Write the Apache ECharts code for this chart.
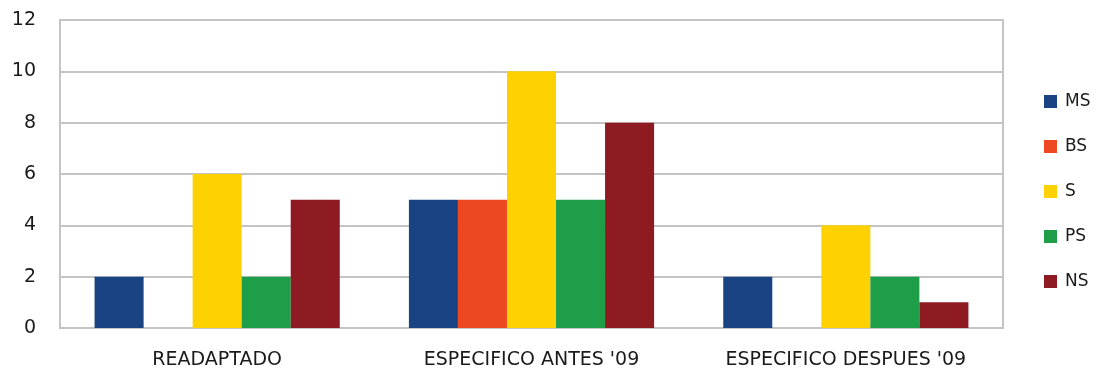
<!DOCTYPE html>
<html>
<head>
<meta charset="utf-8">
<script src="https://cdn.jsdelivr.net/npm/echarts@6/dist/echarts.min.js"></script>
<style>
  html, body { margin: 0; padding: 0; background: #fff; }
  #chart { width: 1103px; height: 372px; }
</style>
</head>
<body>
<div id="chart"></div>
<script>
// Groups along the x axis
const categories = ['READAPTADO', "ESPECIFICO ANTES '09", "ESPECIFICO DESPUES '09"];

// Counts per answer in each group
const msValues = [2, 5, 2];
const bsValues = [0, 5, 0];
const sValues  = [6, 10, 4];
const psValues = [2, 5, 2];
const nsValues = [5, 8, 1];

const seriesNames = ['MS', 'BS', 'S', 'PS', 'NS'];
const seriesColors = ['#1a4384', '#ee4822', '#fed200', '#1e9e48', '#8e1a22'];
const seriesData = [msValues, bsValues, sValues, psValues, nsValues];

const font = 'DejaVu Sans';
const textColor = '#1a1a1a';

const chart = echarts.init(document.getElementById('chart'), null, { renderer: 'canvas' });

chart.setOption({
  animation: false,
  backgroundColor: '#ffffff',
  grid: {
    left: 60, right: 100, top: 20, bottom: 44,
    show: true, borderColor: '#c4c4c4', borderWidth: 2, backgroundColor: 'transparent'
  },
  legend: {
    orient: 'vertical',
    left: 1039, top: 88,
    itemWidth: 13, itemHeight: 13, itemGap: 28,
    icon: 'rect',
    textStyle: { fontFamily: font, fontSize: 17, lineHeight: 16, color: textColor, padding: [0, 0, 0, 3] },
    data: seriesNames
  },
  xAxis: {
    type: 'category',
    data: categories,
    axisLine: { show: false },
    axisTick: { show: false },
    axisLabel: { fontFamily: font, fontSize: 19, color: textColor, margin: 23 }
  },
  yAxis: {
    type: 'value',
    min: 0, max: 12, interval: 2,
    axisLine: { show: false },
    axisTick: { show: false },
    splitLine: { lineStyle: { color: '#c4c4c4', width: 2 } },
    axisLabel: { fontFamily: font, fontSize: 19, color: textColor, margin: 24 }
  },
  series: seriesNames.map((name, i) => ({
    name,
    type: 'bar',
    data: seriesData[i],
    itemStyle: { color: seriesColors[i] },
    barGap: '0%',
    barCategoryGap: '22%'
  }))
});
</script>
</body>
</html>
